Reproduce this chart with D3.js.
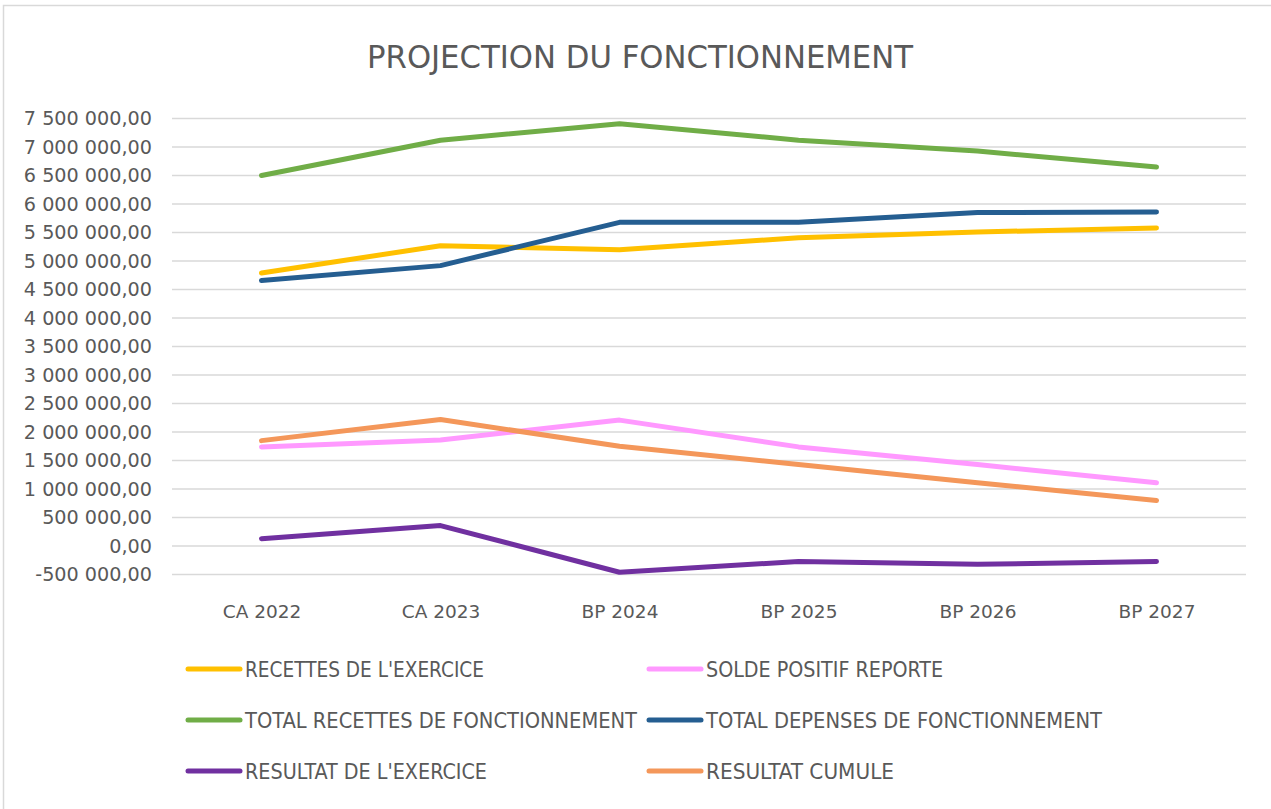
<!DOCTYPE html>
<html>
<head>
<meta charset="utf-8">
<script src="https://cdn.jsdelivr.net/npm/d3@7"></script>
<style>
  html, body { margin: 0; padding: 0; background: #fff; }
  svg { display: block; }
</style>
</head>
<body>
<svg id="chart" width="1271" height="809"></svg>
<script>
const categories = ["CA 2022", "CA 2023", "BP 2024", "BP 2025", "BP 2026", "BP 2027"];

const recettesExercice      = [4780000, 5260000, 5190000, 5400000, 5500000, 5570000];
const soldePositifReporte   = [1730000, 1850000, 2200000, 1730000, 1420000, 1100000];
const totalRecettesFonct    = [6490000, 7110000, 7400000, 7110000, 6920000, 6640000];
const totalDepensesFonct    = [4650000, 4910000, 5670000, 5670000, 5840000, 5850000];
const resultatExercice      = [120000, 350000, -470000, -280000, -330000, -280000];
const resultatCumule        = [1840000, 2210000, 1740000, 1420000, 1100000, 790000];

const yTicks = [-500000, 0, 500000, 1000000, 1500000, 2000000, 2500000, 3000000, 3500000,
                4000000, 4500000, 5000000, 5500000, 6000000, 6500000, 7000000, 7500000];

const seriesNames = ["RECETTES DE L'EXERCICE", "SOLDE POSITIF REPORTE",
                     "TOTAL RECETTES DE FONCTIONNEMENT", "TOTAL DEPENSES DE FONCTIONNEMENT",
                     "RESULTAT DE L'EXERCICE", "RESULTAT CUMULE"];
const seriesColors = ["#FFC000", "#FF99FF", "#70AD47", "#255E91", "#7030A0", "#F4975A"];
const seriesValues = [recettesExercice, soldePositifReporte, totalRecettesFonct,
                      totalDepensesFonct, resultatExercice, resultatCumule];

const chartTitle = "PROJECTION DU FONCTIONNEMENT";

// text widths of legend labels (style only)
const legendTextWidths = [239, 237, 392, 396, 242, 188];

(function () {
const svg = d3.select("#chart");
const textColor = "#595959";
const narrow = "'Liberation Sans Narrow', 'DejaVu Sans Condensed', sans-serif";
const numFont = "'DejaVu Sans', sans-serif";

// chart border
svg.append("rect").attr("x", 3.5).attr("y", 5.5).attr("width", 1280).attr("height", 820)
  .attr("fill", "none").attr("stroke", "#d9d9d9").attr("stroke-width", 1.5);

const mLeft = 172, mRight = 1246, mTop = 118, mBottom = 574;

const x = d3.scalePoint().domain(categories).range([mLeft, mRight]).padding(0.5);
const y = d3.scaleLinear().domain([-500000, 7500000]).range([mBottom, mTop]);

const locale = d3.formatLocale({decimal: ",", thousands: " ", grouping: [3], currency: ["", " €"], minus: "-"});
const fmt = locale.format(",.2f");

// title
svg.append("text").attr("x", 640).attr("y", 68).attr("text-anchor", "middle")
  .attr("font-family", narrow).attr("font-size", 32).attr("fill", textColor)
  .attr("textLength", 546).attr("lengthAdjust", "spacingAndGlyphs")
  .text(chartTitle);

// grid
const yAxis = d3.axisLeft(y).tickValues(yTicks).tickSize(-(mRight - mLeft)).tickPadding(20).tickFormat(fmt);
const gy = svg.append("g").attr("transform", `translate(${mLeft},0)`).call(yAxis);
gy.select(".domain").remove();
gy.selectAll(".tick line").attr("stroke", "#d9d9d9").attr("stroke-width", 1.5);
gy.selectAll(".tick text").attr("fill", textColor).attr("font-family", numFont).attr("font-size", 19.2)
  .attr("dy", "0.36em");

// x axis labels
const xAxis = d3.axisBottom(x).tickSize(0).tickPadding(0);
const gx = svg.append("g").attr("transform", `translate(0,${mBottom + 44})`).call(xAxis);
gx.select(".domain").remove();
gx.selectAll(".tick text").attr("fill", textColor).attr("font-family", numFont).attr("font-size", 18.5)
  .attr("dy", 0);

// lines
const line = d3.line().x((d, i) => x(categories[i])).y(d => y(d));
seriesValues.forEach((vals, k) => {
  svg.append("path").datum(vals).attr("d", line)
    .attr("fill", "none").attr("stroke", seriesColors[k]).attr("stroke-width", 5)
    .attr("stroke-linecap", "round").attr("stroke-linejoin", "round");
});

// legend
const legX = [186, 647], legY = [669, 720, 771];
seriesNames.forEach((name, k) => {
  const col = k % 2, row = Math.floor(k / 2);
  const g = svg.append("g").attr("transform", `translate(${legX[col]},${legY[row]})`);
  g.append("line").attr("x1", 2).attr("x2", 54).attr("y1", 0).attr("y2", 0)
    .attr("stroke", seriesColors[k]).attr("stroke-width", 5).attr("stroke-linecap", "round");
  g.append("text").attr("x", 59).attr("y", 8).attr("font-family", narrow).attr("font-size", 22)
    .attr("fill", textColor)
    .attr("textLength", legendTextWidths[k]).attr("lengthAdjust", "spacingAndGlyphs")
    .text(name);
});
})();
</script>
</body>
</html>
